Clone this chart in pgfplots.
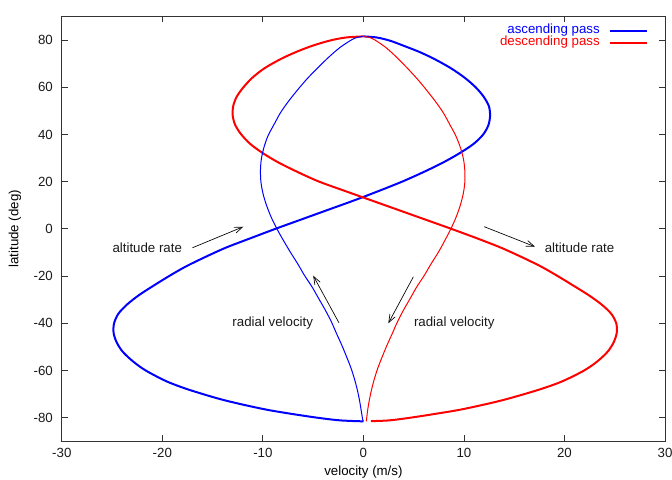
\documentclass[border=0pt]{standalone}
\usepackage{fontspec}
\setmainfont{Liberation Sans}
\usepackage{pgfplots}
\pgfplotsset{compat=1.18}
\usetikzlibrary{arrows.meta}

\begin{document}
\fontsize{10}{12}\selectfont
\begin{tikzpicture}
\useasboundingbox (-46.35bp,-29.0bp) rectangle (457.65bp,331.0bp);
\begin{axis}[
  scale only axis, width=452.4bp, height=318.7bp,
  xmin=-30, xmax=30, ymin=-90, ymax=90,
  xtick={-30,-20,...,30}, ytick={-80,-60,...,80},
  tick align=inside, major tick length=4.5bp,
  axis line style={black!80, line width=0.6pt},
  tick style={black!80, line width=0.6pt},
  /pgf/number format/assume math mode=true,
  every tick label/.append style={font=\fontsize{10}{12}\selectfont, text=black!90},
  xticklabel style={yshift=-2bp},
  yticklabel style={xshift=-3.2bp},
  xlabel={velocity (m/s)}, ylabel={latitude (deg)},
  xlabel style={at={(axis description cs:0.5,-0.0731)}, anchor=center, font=\fontsize{10}{12}\selectfont},
  ylabel style={at={(axis description cs:-0.0777,0.5)}, anchor=center, font=\fontsize{10}{12}\selectfont},
  legend plot pos=right,
  legend cell align=right,
  legend style={at={(1,1)}, anchor=north east, xshift=-12.75bp, yshift=-6bp,
    draw=none, fill=none, inner sep=0pt, row sep=0pt, column sep=6.75bp,
    font=\fontsize{10}{12}\selectfont,
    nodes={inner sep=0pt, text height=7bp, text depth=2bp}},
  legend image code/.code={\draw[#1] (0bp,0bp) -- (27.75bp,0bp);},
]
% ascending pass, altitude rate
\addplot[blue, line width=1.5bp, smooth] coordinates {
(0,-81.54) (-2.3,-81.13) (-4.4,-80.1) (-6.95,-78.5) (-9.62,-76.6) (-12.45,-74)
(-14.6,-71.7) (-17.45,-68) (-19.57,-64.6) (-21.65,-60) (-22.9,-56.2) (-23.95,-52)
(-24.55,-48) (-24.85,-44) (-24.8,-40) (-24.38,-36) (-23.5,-32) (-22.3,-28)
(-20.85,-24) (-19.33,-20) (-17.69,-16) (-15.77,-12) (-13.7,-8) (-11.25,-4)
(-8.76,0) (-6.16,4) (-3.56,8) (-0.96,12) (1.5,16) (3.85,20) (5.95,24) (7.88,28)
(9.55,32) (10.96,36) (11.92,40) (12.44,44) (12.6,48) (12.48,52) (11.96,56)
(11.16,60) (10.08,64) (8.72,68) (7.04,72) (5.54,75) (4.04,77.5) (2.8,79.5)
(1.96,80.5) (1.23,81.13) (0,81.54)
};
\addlegendentry{\textcolor{blue}{ascending pass}}
% descending pass, altitude rate
\addplot[red, line width=1.5bp, smooth] coordinates {
(0,81.54) (-1.6,81.13) (-2.54,80.5) (-3.58,79.5) (-5.12,77.5) (-6.65,75)
(-8.2,72) (-9.85,68) (-11.05,64) (-11.93,60) (-12.6,56) (-12.95,52) (-13.0,48)
(-12.75,44) (-12.15,40) (-11.26,36) (-9.98,32) (-8.4,28) (-6.5,24) (-4.4,20)
(-1.8,16) (0.84,12) (3.48,8) (6.12,4) (8.75,0) (11.3,-4) (13.7,-8) (15.77,-12)
(17.69,-16) (19.33,-20) (20.87,-24) (22.38,-28) (23.68,-32) (24.66,-36)
(25.15,-40) (25.2,-44) (24.9,-48) (24.3,-52) (23.25,-56.2) (21.95,-60)
(19.77,-64.6) (17.55,-68) (14.6,-71.7) (12.45,-74) (9.62,-76.6) (6.95,-78.5)
(4.5,-80.1) (2.55,-81.13) (0.75,-81.45)
};
\addlegendentry{\textcolor{red}{descending pass}}
% ascending pass, radial velocity
\addplot[blue, line width=0.75bp, smooth, forget plot] coordinates {
(0,-81.54) (-0.05,-81.13) (-0.1,-80.1) (-0.22,-76.9) (-0.38,-72.8) (-0.6,-68.3)
(-0.88,-63.7) (-1.24,-58.9) (-1.68,-54.1) (-2.15,-49.25) (-2.67,-44.37)
(-3.17,-39.5) (-3.77,-34.56) (-4.43,-29.64) (-5.09,-24.71) (-5.85,-19.77)
(-6.53,-14.83) (-7.26,-9.89) (-7.95,-4.94) (-8.6,0) (-9.17,4.94) (-9.63,9.89)
(-9.98,14.83) (-10.19,19.77) (-10.24,24.71) (-10.15,29.64) (-9.89,34.56)
(-9.48,39.5) (-8.87,44.37) (-8.24,49.25) (-7.44,54.1) (-6.54,58.9) (-5.57,63.7)
(-4.52,68.3) (-3.43,72.8) (-2.31,76.9) (-1.16,80.1) (-0.58,81.13) (0,81.54)
};
% descending pass, radial velocity
\addplot[red, line width=0.75bp, smooth, forget plot] coordinates {
(0,81.54) (0.56,81.13) (1.11,80.1) (2.21,76.9) (3.28,72.8) (4.32,68.3)
(5.32,63.7) (6.26,58.9) (7.14,54.1) (7.94,49.25) (8.57,44.37) (9.18,39.5)
(9.64,34.56) (9.95,29.64) (10.09,24.71) (10.09,19.77) (9.93,14.83) (9.63,9.89)
(9.22,4.94) (8.7,0) (8.1,-4.94) (7.46,-9.89) (6.73,-14.83) (6.05,-19.77)
(5.29,-24.71) (4.63,-29.64) (3.97,-34.56) (3.37,-39.5) (2.87,-44.37)
(2.35,-49.25) (1.88,-54.1) (1.44,-58.9) (1.08,-63.7) (0.8,-68.3) (0.58,-72.8)
(0.42,-76.9) (0.33,-80.1) (0.3,-81.13) (0.3,-81.5)
};
% annotations
\node[font=\fontsize{10}{12}\selectfont, text=black!90] at (axis cs:-21.5,-8.0) {altitude rate};
\node[font=\fontsize{10}{12}\selectfont, text=black!90] at (axis cs:21.5,-8.0) {altitude rate};
\node[font=\fontsize{10}{12}\selectfont, text=black!90] at (axis cs:-9.02,-39.8) {radial velocity};
\node[font=\fontsize{10}{12}\selectfont, text=black!90] at (axis cs:9.04,-39.8) {radial velocity};
\draw[-{Straight Barb[length=6bp,width=4.5bp]}, line width=0.5bp] (axis cs:-17.0,-8.0) -- (axis cs:-11.95,0.9);
\draw[-{Straight Barb[length=6bp,width=4.5bp]}, line width=0.5bp] (axis cs:-2.43,-39.8) -- (axis cs:-4.99,-19.85);
\draw[-{Straight Barb[length=6bp,width=4.5bp]}, line width=0.5bp] (axis cs:12.03,0.9) -- (axis cs:17.07,-7.56);
\draw[-{Straight Barb[length=6bp,width=4.5bp]}, line width=0.5bp] (axis cs:4.97,-20.3) -- (axis cs:2.48,-40.0);
\end{axis}
\end{tikzpicture}
\end{document}
